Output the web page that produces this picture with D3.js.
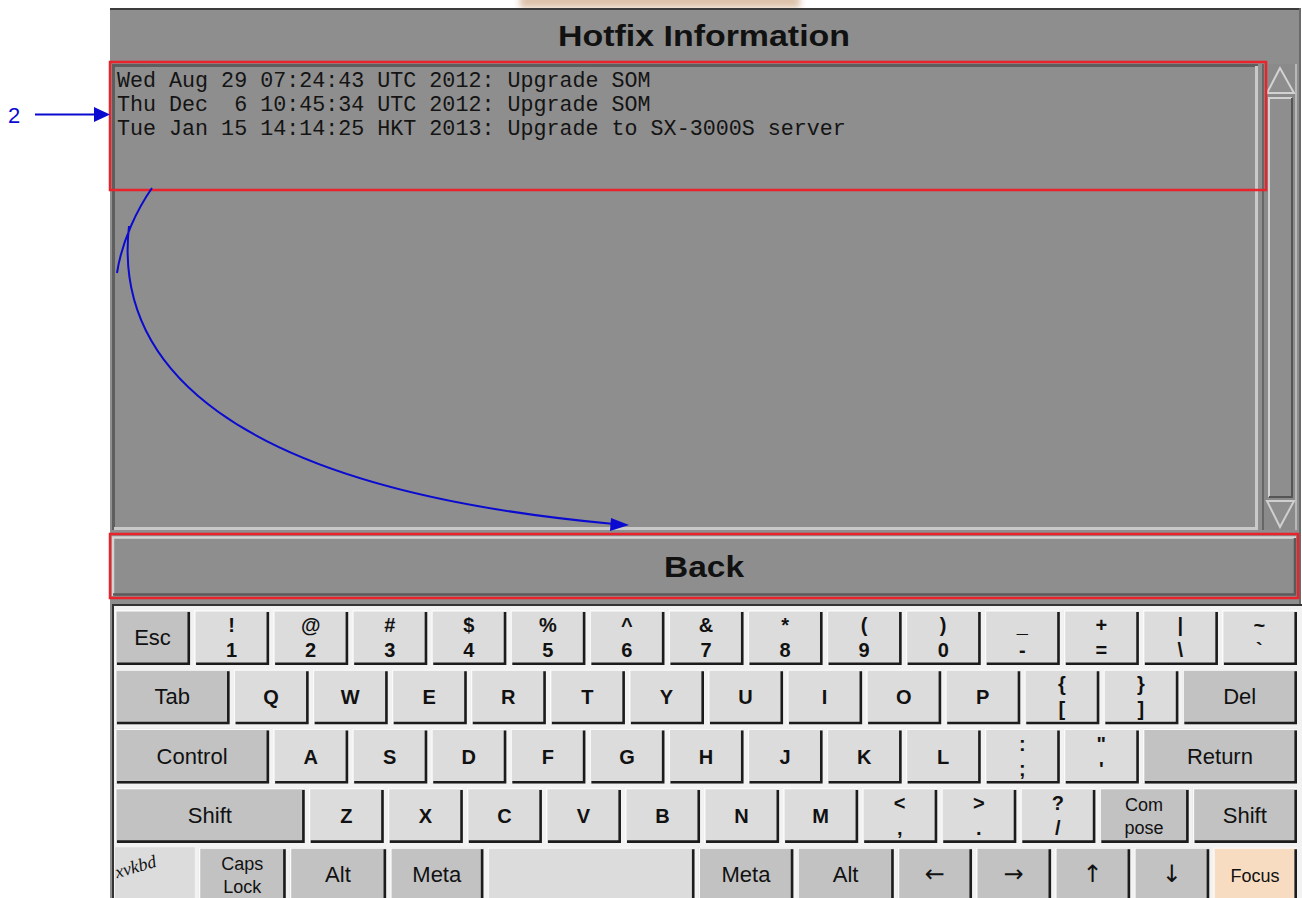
<!DOCTYPE html>
<html>
<head>
<meta charset="utf-8">
<script src="https://cdn.jsdelivr.net/npm/d3@7"></script>
<style>
  body { margin: 0; background: #fff; }
  svg { display: block; }
</style>
</head>
<body>
<svg width="1302" height="898"></svg>
<script>
var titleText = "Hotfix Information";
var hotfixLines = [
    "Wed Aug 29 07:24:43 UTC 2012: Upgrade SOM",
    "Thu Dec  6 10:45:34 UTC 2012: Upgrade SOM",
    "Tue Jan 15 14:14:25 HKT 2013: Upgrade to SX-3000S server"
];
var backText = "Back";
var calloutText = "2";

// keyboard, row by row ("\n" = shifted symbol over base symbol)
var keyRows = [
    ["Esc", "!\n1", "@\n2", "#\n3", "$\n4", "%\n5", "^\n6", "&\n7", "*\n8", "(\n9", ")\n0", "_\n-", "+\n=", "|\n\\", "~\n`"],
    ["Tab", "Q", "W", "E", "R", "T", "Y", "U", "I", "O", "P", "{\n[", "}\n]", "Del"],
    ["Control", "A", "S", "D", "F", "G", "H", "J", "K", "L", ":\n;", "\"\n'", "Return"],
    ["Shift", "Z", "X", "C", "V", "B", "N", "M", "<\n,", ">\n.", "?\n/", "Com\npose", "Shift"],
    ["xvkbd", "Caps\nLock", "Alt", "Meta", "", "Meta", "Alt", "\u2190", "\u2192", "\u2191", "\u2193", "Focus"]
];
// key widths in key units (a row is 15 units)
var keyUnits = [
    [1, 1, 1, 1, 1, 1, 1, 1, 1, 1, 1, 1, 1, 1, 1],
    [1.5, 1, 1, 1, 1, 1, 1, 1, 1, 1, 1, 1, 1, 1.5],
    [2, 1, 1, 1, 1, 1, 1, 1, 1, 1, 1, 1, 2],
    [2.45, 1, 1, 1, 1, 1, 1, 1, 1, 1, 1, 1.18, 1.37],
    [1.06, 1.15, 1.27, 1.23, 2.67, 1.25, 1.27, 0.99, 1, 1, 1, 1.11]
];
var modifierKeys = ["Esc", "Tab", "Del", "Control", "Return", "Shift", "Com\npose", "Caps\nLock", "Alt", "Meta",
                    "\u2190", "\u2192", "\u2191", "\u2193"];

var svg = d3.select("svg");
var gray = "#8e8e8e";
var red = "#e8232b";
var blue = "#0a0ad0";
var sans = "Liberation Sans, Arial, sans-serif";

// ---- window background ----
var defs = svg.append("defs");
defs.append("filter").attr("id", "blur").append("feGaussianBlur").attr("stdDeviation", 3);
svg.append("rect").attr("x", 520).attr("y", -6).attr("width", 280).attr("height", 14)
    .attr("fill", "#c79a72").attr("opacity", 0.6).attr("filter", "url(#blur)");

svg.append("rect").attr("x", 110).attr("y", 8).attr("width", 1190).attr("height", 890).attr("fill", gray);
svg.append("line").attr("x1", 110).attr("x2", 1300).attr("y1", 9).attr("y2", 9)
    .attr("stroke", "#3c3c3c").attr("stroke-width", 2);
svg.append("line").attr("x1", 1300).attr("x2", 1300).attr("y1", 8).attr("y2", 604)
    .attr("stroke", "#6a6a6a").attr("stroke-width", 2);

svg.append("text").attr("x", 704).attr("y", 46)
    .attr("text-anchor", "middle")
    .attr("font-family", sans)
    .attr("font-weight", "bold").attr("font-size", 30)
    .attr("textLength", 292).attr("lengthAdjust", "spacingAndGlyphs")
    .attr("fill", "#111").text(titleText);

// ---- text panel (sunken) ----
var panel = svg.append("g");
panel.append("rect").attr("x", 112).attr("y", 64).attr("width", 1146).attr("height", 466).attr("fill", gray);
panel.append("path").attr("d", "M113.5,530 V65.5 H1258").attr("fill", "none")
    .attr("stroke", "#5e5e5e").attr("stroke-width", 3);
panel.append("path").attr("d", "M1256.5,66 V528.5 H114").attr("fill", "none")
    .attr("stroke", "#c9c9c9").attr("stroke-width", 3);

panel.selectAll("text.line")
    .data(hotfixLines)
    .enter().append("text")
    .attr("class", "line")
    .attr("x", 117)
    .attr("y", function(d, i) { return 87 + i * 24; })
    .attr("font-family", "Liberation Mono, Courier New, monospace")
    .attr("font-size", 21.7)
    .attr("fill", "#141414")
    .style("white-space", "pre")
    .text(function(d) { return d; });

// ---- scrollbar ----
var sb = svg.append("g");
sb.append("rect").attr("x", 1262).attr("y", 64).attr("width", 35).attr("height", 466).attr("fill", "#8a8a8a");
sb.append("line").attr("x1", 1263).attr("x2", 1263).attr("y1", 64).attr("y2", 530).attr("stroke", "#666").attr("stroke-width", 2);
sb.append("line").attr("x1", 1296).attr("x2", 1296).attr("y1", 64).attr("y2", 530).attr("stroke", "#b8b8b8").attr("stroke-width", 2);
sb.append("path").attr("d", "M1280,68 L1267,93 L1294,93 Z").attr("fill", gray)
    .attr("stroke", "#d2d2d2").attr("stroke-width", 2);
sb.append("rect").attr("x", 1268).attr("y", 97).attr("width", 24).attr("height", 400).attr("fill", gray);
sb.append("path").attr("d", "M1269,497 V98 H1292").attr("fill", "none").attr("stroke", "#d2d2d2").attr("stroke-width", 2);
sb.append("path").attr("d", "M1292,98 V497 H1269").attr("fill", "none").attr("stroke", "#555").attr("stroke-width", 2);
sb.append("path").attr("d", "M1267,501 L1294,501 L1280,527 Z").attr("fill", gray)
    .attr("stroke", "#cfcfcf").attr("stroke-width", 2);

// ---- Back button ----
var back = svg.append("g");
back.append("rect").attr("x", 112).attr("y", 536).attr("width", 1184).attr("height", 60).attr("fill", gray);
back.append("path").attr("d", "M113,596 V537.5 H1296").attr("fill", "none").attr("stroke", "#d4d4d4").attr("stroke-width", 2.5);
back.append("path").attr("d", "M1295,538 V594.5 H113").attr("fill", "none").attr("stroke", "#5a5a5a").attr("stroke-width", 2.5);
back.append("text").attr("x", 704).attr("y", 577)
    .attr("text-anchor", "middle")
    .attr("font-family", sans)
    .attr("font-weight", "bold").attr("font-size", 30)
    .attr("textLength", 80).attr("lengthAdjust", "spacingAndGlyphs")
    .attr("fill", "#111").text(backText);

// ---- keyboard ----
var kb = svg.append("g");
kb.append("rect").attr("x", 112).attr("y", 604).attr("width", 1190).attr("height", 294).attr("fill", "#f2f2f2");
kb.append("line").attr("x1", 112).attr("x2", 1302).attr("y1", 605).attr("y2", 605).attr("stroke", "#333").attr("stroke-width", 2);
kb.append("line").attr("x1", 113).attr("x2", 113).attr("y1", 604).attr("y2", 898).attr("stroke", "#333").attr("stroke-width", 2);

var x = d3.scaleLinear().domain([0, 15]).range([115, 1301]);
var y = d3.scaleLinear().domain([0, 1]).range([610, 669.3]);
var keyH = 55;
var gap = 4;

var keys = [];
keyRows.forEach(function(row, r) {
    var u = 0;
    row.forEach(function(label, k) {
        var w = keyUnits[r][k];
        keys.push({ label: label, row: r, u0: u, u1: u + w });
        u += w;
    });
});

var keyG = kb.selectAll("g.key")
    .data(keys)
    .enter().append("g")
    .attr("class", "key")
    .attr("transform", function(d) { return "translate(" + x(d.u0) + "," + y(d.row) + ")"; });

function keyW(d) { return x(d.u1) - x(d.u0) - gap; }
function keyFill(d) {
    if (d.label === "Focus") return "#f7dcc2";
    if (modifierKeys.indexOf(d.label) >= 0) return "#c2c2c2";
    return "#dcdcdc";
}

keyG.append("rect")
    .attr("width", keyW)
    .attr("height", keyH)
    .attr("fill", keyFill);

keyG.filter(function(d) { return d.label !== "xvkbd"; })
    .append("path")
    .attr("fill", "none")
    .attr("stroke", "#fbfbfb").attr("stroke-width", 1.5)
    .attr("d", function(d) { return "M0.7," + keyH + " V0.7 H" + keyW(d); });

keyG.filter(function(d) { return d.label !== "xvkbd"; })
    .append("path")
    .attr("fill", "none")
    .attr("stroke", "#1c1c1c").attr("stroke-width", 2.6)
    .attr("d", function(d) { var w = keyW(d); return "M" + (w - 1.3) + ",2 V" + (keyH - 1.3) + " H2"; });

keyG.each(function(d) {
    var g = d3.select(this);
    var cx = keyW(d) / 2;
    var isMod = modifierKeys.indexOf(d.label) >= 0 || d.label === "Focus";
    var parts = d.label.split("\n");
    if (d.label === "xvkbd") {
        g.append("text")
            .attr("transform", "translate(2,31) rotate(-16)")
            .attr("font-family", "Liberation Serif, serif")
            .attr("font-style", "italic")
            .attr("font-size", 18)
            .attr("fill", "#111")
            .text(d.label);
        return;
    }
    if (d.label === "") return;
    var font = sans;
    var size = isMod ? 22 : 20;
    var weight = isMod ? "normal" : "bold";
    if (d.label === "Focus") size = 18;
    if (d.label.length === 1 && d.label.charCodeAt(0) > 0x2000) { size = 24; font = "DejaVu Sans, sans-serif"; weight = "normal"; }
    if (parts.length === 2) {
        var s = isMod ? 18 : 20;
        var b1 = isMod ? 23 : 22;
        var b2 = isMod ? 46 : 47;
        g.append("text").attr("x", cx).attr("y", b1)
            .attr("text-anchor", "middle").attr("font-family", font)
            .attr("font-weight", weight).attr("font-size", s).attr("fill", "#111").text(parts[0]);
        g.append("text").attr("x", cx).attr("y", b2)
            .attr("text-anchor", "middle").attr("font-family", font)
            .attr("font-weight", weight).attr("font-size", s).attr("fill", "#111").text(parts[1]);
    } else {
        g.append("text").attr("x", cx).attr("y", keyH / 2 + 7.5)
            .attr("text-anchor", "middle").attr("font-family", font)
            .attr("font-weight", weight).attr("font-size", size).attr("fill", "#111").text(d.label);
    }
});

// ---- red highlight boxes ----
svg.append("rect").attr("x", 110).attr("y", 62).attr("width", 1156).attr("height", 128)
    .attr("fill", "none").attr("stroke", red).attr("stroke-width", 2.5);
svg.append("rect").attr("x", 110).attr("y", 534).attr("width", 1188).attr("height", 64)
    .attr("fill", "none").attr("stroke", red).attr("stroke-width", 2.5);

// ---- blue callout ----
svg.append("text").attr("x", 8).attr("y", 123)
    .attr("font-family", sans)
    .attr("font-size", 22).attr("fill", blue).text(calloutText);
svg.append("line").attr("x1", 35).attr("x2", 96).attr("y1", 114.5).attr("y2", 114.5)
    .attr("stroke", blue).attr("stroke-width", 2);
svg.append("path").attr("d", "M110,114.5 L94,107 L94,122 Z").attr("fill", blue);

// curved arrow from the text box down to the Back button
var path = d3.path();
path.moveTo(152, 188);
path.bezierCurveTo(138, 208, 122, 240, 117, 273);
path.moveTo(129, 226);
path.bezierCurveTo(114, 360, 220, 488, 614, 524);
svg.append("path").attr("d", path.toString()).attr("fill", "none").attr("stroke", blue).attr("stroke-width", 2);
svg.append("path").attr("d", "M629,525 L611,518 L610,531 Z").attr("fill", blue);
</script>
</body>
</html>
